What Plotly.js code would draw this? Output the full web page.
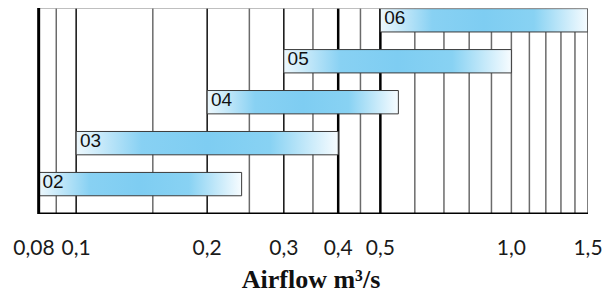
<!DOCTYPE html>
<html>
<head>
<meta charset="utf-8">
<script src="https://cdn.plot.ly/plotly-3.0.1.min.js"></script>
<style>html,body{margin:0;padding:0;background:#fff;}#chart{width:604px;height:297px;}</style>
</head>
<body>
<div id="chart"></div>
<script>
// ---- data ----
const categories = ['02', '03', '04', '05', '06'];
const flowMin = [0.082, 0.1, 0.2, 0.3, 0.5];
const flowMax = [0.24, 0.4, 0.55, 1.0, 1.5];
const tickVals = [0.08, 0.1, 0.2, 0.3, 0.4, 0.5, 1.0, 1.5];
const tickText = ['0,08', '0,1', '0,2', '0,3', '0,4', '0,5', '1,0', '1,5'];
const gridHeavy = [0.4, 0.5];
const gridMajor = [0.1, 0.2, 0.3];
const gridMinor = [0.09, 0.15, 0.25, 0.35, 0.45, 0.6, 0.7, 0.8, 0.9, 1.0, 1.1, 1.2, 1.3, 1.4];
const axisStart = 0.082;
const axisEnd = 1.5;
const xTitle = 'Airflow m³/s';

// ---- layout constants ----
const yLo = -0.73, yHi = 4.30, half = 0.285;

function vlines(vals, color, width) {
  const x = [], y = [];
  vals.forEach(v => { x.push(v, v, null); y.push(yLo, yHi, null); });
  return {type: 'scatter', mode: 'lines', x, y, line: {color, width}, hoverinfo: 'skip', showlegend: false, cliponaxis: false};
}

const traces = [];
traces.push(vlines(gridMinor, '#6b6b6b', 1.5));
traces.push(vlines(gridMajor, '#1e1e1e', 1.6));
traces.push(vlines(gridHeavy, '#000000', 2.5));

categories.forEach((c, i) => {
  const s = flowMin[i], e = flowMax[i];
  traces.push({
    type: 'scatter', mode: 'lines',
    x: [s, e, e, s, s],
    y: [i - half, i - half, i + half, i + half, i - half],
    fill: 'toself',
    fillgradient: {
      type: 'horizontal',
      colorscale: [[0, '#eef8fd'], [0.25, '#88d1f3'], [0.5, '#7ecdf2'], [0.74, '#88d2f3'], [1, '#f7fcff']]
    },
    line: {color: '#3a3a3a', width: 1},
    hoverinfo: 'skip', showlegend: false
  });
});

traces.push({
  type: 'scatter', mode: 'text',
  x: flowMin, y: categories.map((c, i) => i + 0.03),
  text: categories.map(c => '\u2009' + c), textposition: 'middle right',
  textfont: {family: 'Liberation Sans, Arial, sans-serif', size: 19, color: '#111'},
  hoverinfo: 'skip', showlegend: false
});

// borders
traces.push(vlines([axisEnd], '#555555', 1.5));
traces.push({type: 'scatter', mode: 'lines', x: [axisStart, axisEnd], y: [yHi, yHi], line: {color: '#aaaaaa', width: 1.5}, hoverinfo: 'skip', showlegend: false, cliponaxis: false});
traces.push(vlines([axisStart], '#000000', 3));
traces.push({type: 'scatter', mode: 'lines', x: [axisStart, axisEnd], y: [yLo, yLo], line: {color: '#000000', width: 3}, hoverinfo: 'skip', showlegend: false, cliponaxis: false});

const layout = {
  width: 604, height: 297,
  margin: {l: 34, r: 16, t: 8, b: 83},
  paper_bgcolor: '#ffffff', plot_bgcolor: '#ffffff',
  showlegend: false,
  xaxis: {
    type: 'log',
    range: [Math.log10(0.08), Math.log10(1.5)],
    tickmode: 'array', tickvals: tickVals, ticktext: tickText,
    showgrid: false, zeroline: false, showline: false,
    ticks: 'outside', ticklen: 15, tickcolor: 'rgba(0,0,0,0)',
    tickfont: {family: 'Lato, Open Sans, sans-serif', size: 21, color: '#1a1a1a'},
    title: {text: xTitle, font: {family: 'Liberation Serif, Times New Roman, serif', size: 26, color: '#111', weight: 'bold'}, standoff: 11}
  },
  yaxis: {
    range: [yLo, yHi], showgrid: false, zeroline: false, showline: false,
    showticklabels: false, ticks: ''
  }
};

Plotly.newPlot('chart', traces, layout, {staticPlot: true, displayModeBar: false});
</script>
</body>
</html>
